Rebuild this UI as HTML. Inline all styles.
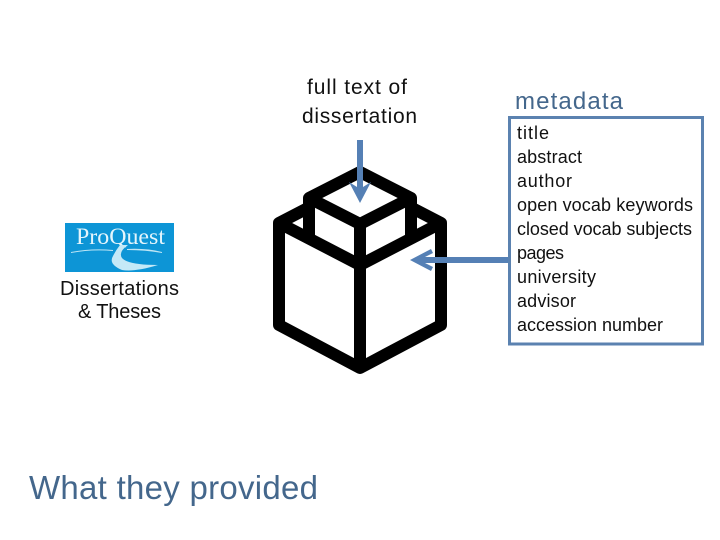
<!DOCTYPE html>
<html><head><meta charset="utf-8"><style>html,body{margin:0;padding:0;background:#fff}svg{display:block}text{font-family:"Liberation Sans",sans-serif;fill:#111}</style></head>
<body><svg width="720" height="540" viewBox="0 0 720 540" xmlns="http://www.w3.org/2000/svg">
<g fill="none" stroke="#000" stroke-width="12" stroke-linejoin="round" stroke-linecap="butt">
<path d="M309 198L360 172L411 198L360 224Z"/>
<path d="M309 198V238M411 198V238M360 224V368"/>
<path d="M306 209L279 223V325L360 368L441 325V223L414 209"/>
<path d="M279 223L360 265L441 223"/>
</g>
<g fill="#5580b5">
<path d="M357 140h6v47l8-5-11 21-11-21 8 5z"/>
<path d="M410 260l21-11 2 4-8 4h83v6h-83l8 4-2 4z"/>
</g>
<rect x="509.500" y="117.500" width="193" height="226.500" fill="none" stroke="#5b82b0" stroke-width="3"/>
<rect x="65" y="223" width="109" height="49" fill="#0d95d6"/>
<text x="76" y="244" font-size="23" style="fill:#e4f5fc;font-family:'Liberation Serif',serif" textLength="89" lengthAdjust="spacingAndGlyphs">ProQuest</text>
<path d="M71 252Q92 248 113 250L113 251Q92 249 71 253ZM127 249Q146 248 162 252L162 253Q146 250 127 250Z" fill="#bfe6f5"/>
<path d="M120 245L128 245Q118 252 122 258Q128 265 158 265Q135 272 122 270Q108 264 113 256Q116 250 120 245Z" fill="#c4e9f7"/>
<text x="307" y="94" font-size="21" textLength="100" lengthAdjust="spacing">full text of</text>
<text x="302" y="123" font-size="21" textLength="115" lengthAdjust="spacing">dissertation</text>
<text x="60" y="295" font-size="20" textLength="119" lengthAdjust="spacing">Dissertations</text>
<text x="78" y="318" font-size="20" textLength="83" lengthAdjust="spacing">&amp; Theses</text>
<text x="515" y="109" font-size="24" style="fill:#44678c" textLength="108" lengthAdjust="spacing">metadata</text>
<text x="29" y="499" font-size="33" style="fill:#44678c" textLength="289" lengthAdjust="spacing">What they provided</text>
<g font-size="18">
<text x="517" y="139" textLength="32" lengthAdjust="spacing">title</text>
<text x="517" y="163" textLength="65" lengthAdjust="spacing">abstract</text>
<text x="517" y="187" textLength="55" lengthAdjust="spacing">author</text>
<text x="517" y="211" textLength="176" lengthAdjust="spacing">open vocab keywords</text>
<text x="517" y="235" textLength="175" lengthAdjust="spacing">closed vocab subjects</text>
<text x="517" y="259" textLength="47" lengthAdjust="spacing">pages</text>
<text x="517" y="283" textLength="79" lengthAdjust="spacing">university</text>
<text x="517" y="307" textLength="59" lengthAdjust="spacing">advisor</text>
<text x="517" y="331" textLength="146" lengthAdjust="spacing">accession number</text>
</g>
</svg></body></html>
